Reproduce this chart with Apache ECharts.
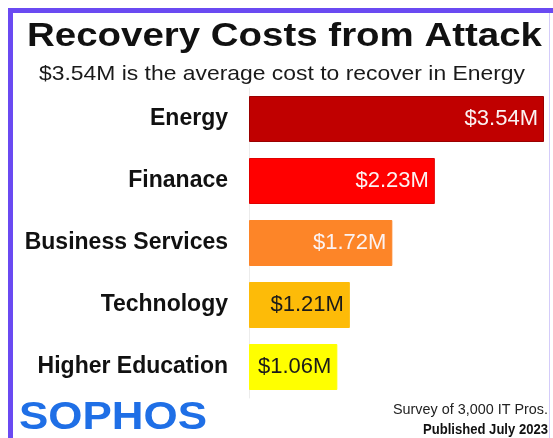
<!DOCTYPE html>
<html>
<head>
<meta charset="utf-8">
<script src="https://cdn.jsdelivr.net/npm/echarts@6/dist/echarts.min.js"></script>
<style>
html,body{margin:0;padding:0;background:#fff;}
#chart{width:553px;height:438px;}
</style>
</head>
<body>
<div id="chart"></div>
<script>
const categories = ['Energy', 'Finanace', 'Business Services', 'Technology', 'Higher Education'];
const costs = [3.54, 2.23, 1.72, 1.21, 1.06];
const barColors = ['#c00000', '#ff0000', '#fd8528', '#fdbb08', '#ffff00'];
const labelColors = ['#fbf2f2', '#fbf2f2', '#fbf2f2', '#1a1a1a', '#1a1a1a'];
const titleText = 'Recovery Costs from Attack';
const subtitleText = '$3.54M is the average cost to recover in Energy';
const brandText = 'SOPHOS';
const noteText = 'Survey of 3,000 IT Pros.';
const publishedText = 'Published July 2023';

const ctx = document.createElement('canvas').getContext('2d');
function fit(text, font, width) {
  ctx.font = font;
  return width / ctx.measureText(text).width;
}
const F = '"Liberation Sans", Arial, sans-serif';
const titleFont = 'bold 34px ' + F;
const subFont = '21px ' + F;
const brandFont = 'bold 38px ' + F;
const noteFont = '15px ' + F;
const pubFont = 'bold 14px ' + F;

const chart = echarts.init(document.getElementById('chart'), null, {renderer: 'canvas'});
chart.setOption({
  backgroundColor: '#ffffff',
  animation: false,
  grid: {left: 249, right: 9, top: 88, bottom: 40, containLabel: false},
  xAxis: {type: 'value', min: 0, max: 3.54, show: false},
  yAxis: {
    type: 'category',
    inverse: true,
    data: categories,
    axisLine: {show: true, lineStyle: {color: '#ececec', width: 1}},
    axisTick: {show: false},
    splitLine: {show: false},
    axisLabel: {
      margin: 21,
      color: '#111111',
      fontFamily: F,
      fontWeight: 'bold',
      fontSize: 23
    }
  },
  series: [{
    type: 'bar',
    barWidth: 46,
    data: costs.map((v, i) => ({
      value: v,
      itemStyle: {
        color: barColors[i],
        borderColor: i === 0 ? '#9a0000' : (i === 1 ? '#e00000' : barColors[i]),
        borderWidth: 1
      },
      label: {color: labelColors[i]}
    })),
    label: {
      show: true,
      position: 'insideRight',
      distance: 6,
      fontFamily: F,
      fontSize: 22,
      formatter: p => '$' + p.value.toFixed(2) + 'M'
    }
  }],
  graphic: [
    {type: 'rect', shape: {x: 8, y: 8, width: 545, height: 5}, style: {fill: '#6a4af2'}, silent: true},
    {type: 'rect', shape: {x: 8, y: 8, width: 5, height: 430}, style: {fill: '#6a4af2'}, silent: true},
    {type: 'rect', shape: {x: 549, y: 13, width: 1, height: 425}, style: {fill: '#d4ccfa'}, silent: true},
    {type: 'text', x: 27, y: 37, scaleX: fit(titleText, titleFont, 515),
      style: {text: titleText, font: titleFont, fill: '#111111', textAlign: 'left', textVerticalAlign: 'middle'}},
    {type: 'text', x: 39, y: 74, scaleX: fit(subtitleText, subFont, 486),
      style: {text: subtitleText, font: subFont, fill: '#1a1a1a', textAlign: 'left', textVerticalAlign: 'middle'}},
    {type: 'text', x: 19, y: 419, scaleX: fit(brandText, brandFont, 188),
      style: {text: brandText, font: brandFont, fill: '#1f6fe6', textAlign: 'left', textVerticalAlign: 'middle'}},
    {type: 'text', x: 548, y: 410, scaleX: fit(noteText, noteFont, 155),
      style: {text: noteText, font: noteFont, fill: '#222222', textAlign: 'right', textVerticalAlign: 'middle'}},
    {type: 'text', x: 548, y: 430, scaleX: fit(publishedText, pubFont, 125),
      style: {text: publishedText, font: pubFont, fill: '#111111', textAlign: 'right', textVerticalAlign: 'middle'}}
  ]
});
</script>
</body>
</html>
